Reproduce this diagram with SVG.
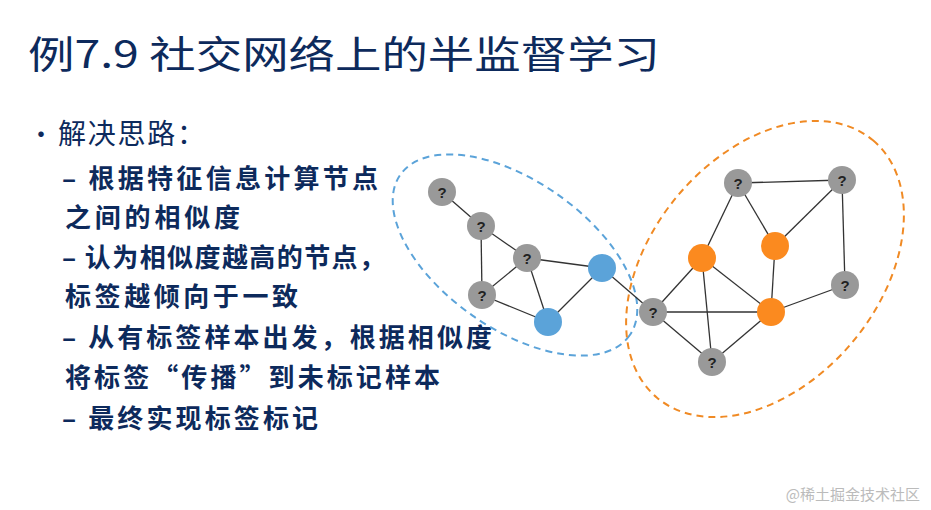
<svg xmlns="http://www.w3.org/2000/svg" width="931" height="510" viewBox="0 0 931 510">
<style>
.t{font-family:"Noto Sans CJK SC","Liberation Sans",sans-serif;fill:#0d2a5c}
.b{font-size:26px;font-weight:bold}
.e line{stroke:#333;stroke-width:1.3}
.q{fill:#999}
.qt{font-family:"Liberation Sans",sans-serif;font-size:15px;font-weight:bold;fill:#222;text-anchor:middle}
</style>
<rect width="931" height="510" fill="#fff"/>
<text class="t" x="28" y="68" font-size="38" textLength="632" lengthAdjust="spacingAndGlyphs">例7.9 社交网络上的半监督学习</text>
<text class="t" x="28" y="144" font-size="26">•</text>
<text class="t" x="58" y="144" font-size="28" textLength="147">解决思路：</text>
<text class="t b" x="62" y="188" textLength="316">– 根据特征信息计算节点</text>
<text class="t b" x="65" y="227" textLength="175">之间的相似度</text>
<text class="t b" x="62" y="267" textLength="323">– 认为相似度越高的节点，</text>
<text class="t b" x="65" y="306" textLength="233">标签越倾向于一致</text>
<text class="t b" x="62" y="347" textLength="430">– 从有标签样本出发，根据相似度</text>
<text class="t b" x="65" y="387" textLength="375">将标签“传播”到未标记样本</text>
<text class="t b" x="62" y="428" textLength="256">– 最终实现标签标记</text>
<ellipse cx="515" cy="255" rx="140" ry="74" transform="rotate(35 515 255)" fill="none" stroke="#5ba3d9" stroke-width="2" stroke-dasharray="7 5"/>
<ellipse cx="765" cy="269" rx="168" ry="114" transform="rotate(-50 765 269)" fill="none" stroke="#f08a24" stroke-width="2" stroke-dasharray="7 5"/>
<g id="edges" class="e">
<line x1="442" y1="192" x2="481" y2="226"/><line x1="481" y1="226" x2="527" y2="258"/><line x1="481" y1="226" x2="482" y2="295"/>
<line x1="527" y1="258" x2="482" y2="295"/><line x1="527" y1="258" x2="602" y2="268"/><line x1="527" y1="258" x2="548" y2="322"/>
<line x1="482" y1="295" x2="548" y2="322"/><line x1="602" y1="268" x2="548" y2="322"/><line x1="602" y1="268" x2="653" y2="312"/>
<line x1="653" y1="312" x2="702" y2="258"/><line x1="653" y1="312" x2="771" y2="312"/><line x1="653" y1="312" x2="712" y2="362"/>
<line x1="702" y1="258" x2="738" y2="183"/><line x1="738" y1="183" x2="842" y2="180"/><line x1="738" y1="183" x2="775" y2="246"/>
<line x1="842" y1="180" x2="775" y2="246"/><line x1="842" y1="180" x2="845" y2="285"/><line x1="702" y1="258" x2="771" y2="312"/>
<line x1="702" y1="258" x2="712" y2="362"/><line x1="775" y1="246" x2="771" y2="312"/><line x1="845" y1="285" x2="771" y2="312"/>
<line x1="771" y1="312" x2="712" y2="362"/>
</g>
<g id="nA"><circle class="q" cx="442" cy="192" r="14"/><text class="qt" x="442" y="198">?</text></g>
<g id="nB"><circle class="q" cx="481" cy="226" r="14"/><text class="qt" x="481" y="232">?</text></g>
<g id="nC"><circle class="q" cx="527" cy="258" r="14"/><text class="qt" x="527" y="264">?</text></g>
<g id="nD"><circle class="q" cx="482" cy="295" r="14"/><text class="qt" x="482" y="301">?</text></g>
<g id="nE"><circle cx="602" cy="268" r="14" fill="#5ba3d9"/></g>
<g id="nF"><circle cx="548" cy="322" r="14" fill="#5ba3d9"/></g>
<g id="nG"><circle class="q" cx="653" cy="312" r="14"/><text class="qt" x="653" y="318">?</text></g>
<g id="nH"><circle class="q" cx="738" cy="183" r="14"/><text class="qt" x="738" y="189">?</text></g>
<g id="nI"><circle class="q" cx="842" cy="180" r="14"/><text class="qt" x="842" y="186">?</text></g>
<g id="nJ"><circle cx="702" cy="258" r="14" fill="#fb8a1f"/></g>
<g id="nK"><circle cx="775" cy="246" r="14" fill="#fb8a1f"/></g>
<g id="nL"><circle class="q" cx="845" cy="285" r="14"/><text class="qt" x="845" y="291">?</text></g>
<g id="nM"><circle cx="771" cy="312" r="14" fill="#fb8a1f"/></g>
<g id="nN"><circle class="q" cx="712" cy="362" r="14"/><text class="qt" x="712" y="368">?</text></g>
<text x="920" y="500" font-family="Noto Sans CJK SC,sans-serif" font-size="15" fill="#bbb" text-anchor="end">@稀土掘金技术社区</text>
</svg>
